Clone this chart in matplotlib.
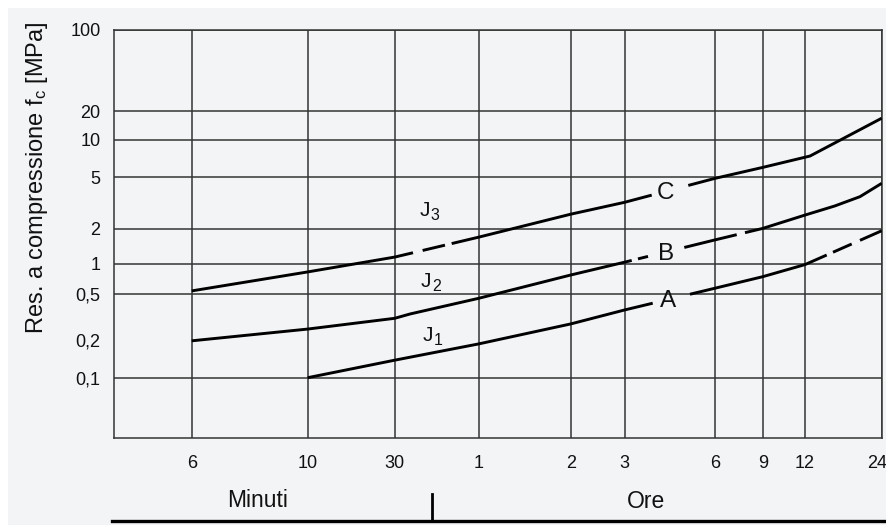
import numpy as np
import matplotlib
matplotlib.use('Agg')
import matplotlib.pyplot as plt
from matplotlib.lines import Line2D
from matplotlib.patches import Rectangle
from matplotlib.transforms import ScaledTranslation

plt.rcParams['font.family'] = ['Liberation Sans', 'DejaVu Sans']
plt.rcParams['mathtext.fontset'] = 'custom'
plt.rcParams['mathtext.rm'] = 'Liberation Sans'
plt.rcParams['mathtext.it'] = 'Liberation Sans'
plt.rcParams['mathtext.default'] = 'regular'

# ---------------- data ----------------
time_ticks_min = [6, 10, 30, 60, 120, 180, 360, 540, 720, 1440]
time_tick_labels = ['6', '10', '30', '1', '2', '3', '6', '9', '12', '24']
strength_ticks = [0.1, 0.2, 0.5, 1, 2, 5, 10, 20, 100]
strength_tick_labels = ['0,1', '0,2', '0,5', '1', '2', '5', '10', '20', '100']
strength_grid = [0.1, 0.5, 1, 2, 5, 10, 20, 100]

# curve C (J3)
c_time = [6, 10, 30, 60, 120, 180, 360, 540, 767, 1440]
c_value = [0.54, 0.83, 1.14, 1.69, 2.59, 3.2, 4.9, 6.0, 7.4, 16.8]
c_breaks = [36.55, 40.0, 48.0, 50.4, 234.3, 307.3]

# curve B (J2)
b_time = [6, 10, 30, 35.5, 60, 120, 180, 360, 540, 720, 1000, 1236, 1440]
b_value = [0.197, 0.249, 0.309, 0.337, 0.461, 0.774, 1.03, 1.6, 2.01, 2.55, 3.0, 3.54, 4.49]
b_breaks = [194.4, 206.9, 226.9, 299.3, 442.5, 473.6]

# curve A (J1)
a_time = [10, 30, 60, 120, 180, 360, 540, 720, 1440]
a_value = [0.1, 0.138, 0.186, 0.276, 0.365, 0.573, 0.745, 0.98, 1.92]
a_breaks = [236.3, 310.7, 923.7, 982.8, 1158.4, 1236.3]

# ---------------- custom (non-uniform) scales ----------------
X_VALS = np.array([0, 6, 10, 30, 60, 120, 180, 360, 540, 720, 1440], float)
X_POS = np.array([0, 77.4, 193.4, 280.4, 364.2, 456.4, 510.2, 600.4, 648.4, 690.7, 767.4])
Y_LOGV = np.log10([0.03, 0.1, 0.2, 0.5, 1, 2, 5, 10, 20, 100])
Y_POS = np.array([0, 60.3, 98, 143.7, 174.3, 209.3, 260.7, 298.3, 327, 408.3])


def x_fwd(t):
    return np.interp(np.asarray(t, float), X_VALS, X_POS)


def x_inv(p):
    return np.interp(np.asarray(p, float), X_POS, X_VALS)


def y_fwd(v):
    v = np.clip(np.asarray(v, float), 1e-6, None)
    return np.interp(np.log10(v), Y_LOGV, Y_POS)


def y_inv(p):
    return 10 ** np.interp(np.asarray(p, float), Y_POS, Y_LOGV)


W, H = 886, 525
fig = plt.figure(figsize=(W / 100, H / 100), dpi=100, facecolor='white')
BG = '#f3f4f6'
fig.patches.append(Rectangle((8 / W, 0), 1, 1 - 8 / H, transform=fig.transFigure,
                             facecolor=BG, edgecolor='none', zorder=-5))

ax = fig.add_axes([114.3 / W, (H - 438) / H, (881.7 - 114.3) / W, (438 - 29.7) / H])
ax.set_facecolor(BG)
ax.set_xscale('function', functions=(x_fwd, x_inv))
ax.set_yscale('function', functions=(y_fwd, y_inv))
ax.set_xlim(0, 1440)
ax.set_ylim(0.03, 100)

GRID_C = '#333333'
for s in ax.spines.values():
    s.set_color(GRID_C)
    s.set_linewidth(1.1)

for t in time_ticks_min:
    ax.axvline(t, color=GRID_C, lw=1.1, zorder=1)
for v in strength_grid:
    ax.axhline(v, color=GRID_C, lw=1.1, zorder=1)

ax.set_xticks(time_ticks_min)
ax.set_xticklabels(time_tick_labels)
ax.set_yticks(strength_ticks)
ax.set_yticklabels(strength_tick_labels)
ax.xaxis.set_minor_locator(matplotlib.ticker.NullLocator())
ax.yaxis.set_minor_locator(matplotlib.ticker.NullLocator())
ax.tick_params(axis='x', length=0, pad=12, labelsize=13, colors='#111111')
ax.tick_params(axis='y', length=0, pad=10, labelsize=13, colors='#111111')
last = ax.get_xticklabels()[-1]
last.set_transform(last.get_transform() + ScaledTranslation(-5 / 100, 0, fig.dpi_scale_trans))


def draw_curve(t, v, breaks):
    t = np.asarray(t, float)
    v = np.asarray(v, float)
    disp = ax.transData.transform(np.column_stack([t, v]))
    bounds = [t[0]] + list(breaks) + [t[-1]]
    for i in range(0, len(bounds) - 1, 2):
        ta, tb = bounds[i], bounds[i + 1]
        xa = ax.transData.transform((ta, 1.0))[0]
        xb = ax.transData.transform((tb, 1.0))[0]
        inner = disp[(disp[:, 0] > xa) & (disp[:, 0] < xb), 0]
        xs = np.concatenate([[xa], inner, [xb]])
        ys = np.interp(xs, disp[:, 0], disp[:, 1])
        pts = ax.transData.inverted().transform(np.column_stack([xs, ys]))
        ax.plot(pts[:, 0], pts[:, 1], color='black', lw=2.1,
                solid_capstyle='butt', zorder=3)


draw_curve(c_time, c_value, c_breaks)
draw_curve(b_time, b_value, b_breaks)
draw_curve(a_time, a_value, a_breaks)

# curve labels
txt = dict(color='#111111', zorder=4)


def j_label(x, y, sub):
    ax.text(x, y, 'J', fontsize=15, ha='left', va='baseline', **txt)
    ax.annotate(sub, xy=(x, y), xytext=(8.2, -3), textcoords='offset points',
                fontsize=11.5, ha='left', va='baseline', **txt)


j_label(38.8, 2.51, '3')
j_label(39.3, 0.594, '2')
j_label(40.0, 0.197, '1')
ax.text(262.8, 3.37, 'C', fontsize=17.5, ha='center', va='baseline', **txt)
ax.text(262.8, 1.076, 'B', fontsize=17.5, ha='center', va='baseline', **txt)
ax.text(266.8, 0.388, 'A', fontsize=17.5, ha='center', va='baseline', **txt)

# y label
fig.text(42.7 / W, 1 - 177.5 / H, 'Res. a compressione f$_c$ [MPa]', fontsize=17,
         rotation=90, rotation_mode='anchor', ha='center', va='baseline', color='#111111')

# bottom units bar
fig.add_artist(Line2D([111.7 / W, 885 / W], [1 - 520.5 / H, 1 - 520.5 / H],
                      transform=fig.transFigure, color='black', lw=2.4))
fig.add_artist(Line2D([432.3 / W, 432.3 / W], [1 - 520.5 / H, 1 - 494 / H],
                      transform=fig.transFigure, color='black', lw=2.0))
fig.text(258 / W, 1 - 506.7 / H, 'Minuti', fontsize=16.5, ha='center', va='baseline', color='#111111')
fig.text(646.3 / W, 1 - 507.5 / H, 'Ore', fontsize=16.5, ha='center', va='baseline', color='#111111')

fig.savefig('out.png', dpi=100, facecolor=fig.get_facecolor())
